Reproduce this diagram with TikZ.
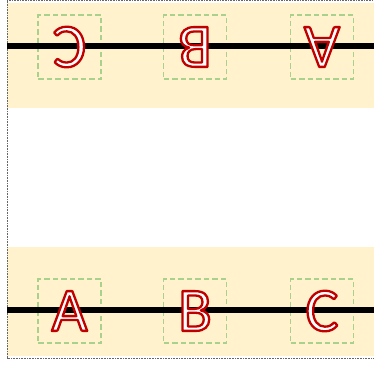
\documentclass[tikz,border=0pt]{standalone}
\usepackage{fontspec}
\newfontfamily\letfont{Carlito}
\definecolor{olred}{HTML}{C00000}
\definecolor{band}{HTML}{FFF2CC}
\definecolor{boxgreen}{HTML}{A9D18E}
\newcommand\olt[1]{%
  \mbox{\color{white}%
  \special{pdf:bcontent}%
  \special{pdf:literal direct 2 Tr 2.3 w 1 j 0.753 0 0 RG}%
  #1%
  \special{pdf:literal direct 0 Tr}%
  \special{pdf:econtent}}}
\tikzset{
  bandfill/.style={fill=band, draw=none},
  rail/.style={line width=6.6pt, black},
  slot/.style={draw=boxgreen, line width=1.4pt, dash pattern=on 5.5pt off 3pt,
    minimum width=63pt, minimum height=64pt, inner sep=0pt},
  letter/.style={inner sep=0pt, font=\letfont\fontsize{62}{62}\selectfont},
  frame/.style={draw=black!60, line width=0.8pt, dash pattern=on 0.8pt off 0.8pt}
}
\begin{document}
\begin{tikzpicture}[x=1pt,y=-1pt]
\useasboundingbox (0,0) rectangle (374,364);
% bands
\fill[bandfill] (7,3) rectangle (374,108);
\fill[bandfill] (7,247) rectangle (374,356);
% frame
\draw[frame] (7,0.5) rectangle (378,358);
% boxes
\node[slot] (tb1) at (69.5,47) {};
\node[slot] (tb2) at (195,47) {};
\node[slot] (tb3) at (322,47) {};
\node[slot] (bb1) at (69.5,311) {};
\node[slot] (bb2) at (195,311) {};
\node[slot] (bb3) at (322,311) {};
% rails
\coordinate (tl) at (7,46);
\coordinate (tr) at (374,46);
\coordinate (bl) at (7,310);
\coordinate (br) at (374,310);
\draw[rail] (tl) -- (tr);
\draw[rail] (bl) -- (br);
% letters
\node[letter, rotate=180] (tC) at (tb1) {\olt{C}};
\node[letter, rotate=180] (tB) at (tb2) {\olt{B}};
\node[letter, rotate=180] (tA) at (tb3) {\olt{A}};
\node[letter] (bA) at (bb1) {\olt{A}};
\node[letter] (bB) at (bb2) {\olt{B}};
\node[letter] (bC) at (bb3) {\olt{C}};
\end{tikzpicture}
\end{document}
